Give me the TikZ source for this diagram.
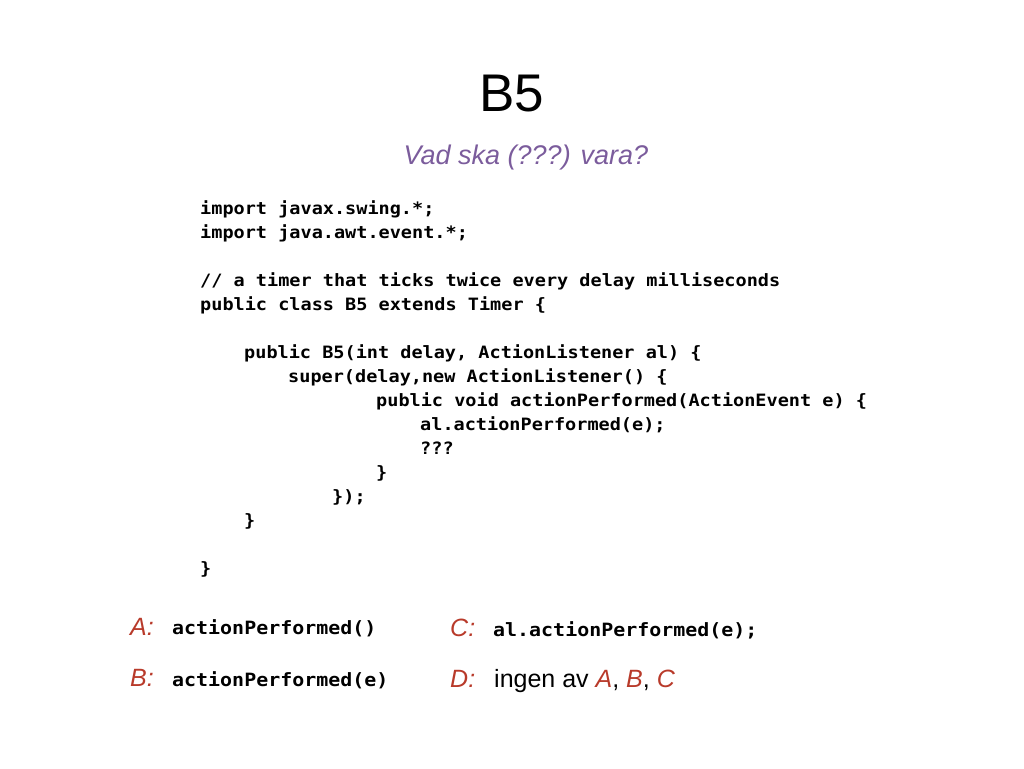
\documentclass[tikz,border=0pt]{standalone}
\usepackage{fontspec}
\setmainfont{Liberation Sans}
\newfontfamily\codefont[FakeStretch=1.09]{DejaVu Sans Mono}
\definecolor{ansred}{HTML}{B83A2A}
\definecolor{subpurple}{HTML}{7B5C9C}
\begin{document}
\begin{tikzpicture}[x=1pt,y=-1pt,
  code/.style={anchor=base west,inner sep=0pt,font=\codefont\bfseries\fontsize{17}{20}\selectfont},
  acode/.style={anchor=base west,inner sep=0pt,font=\codefont\bfseries\fontsize{18.3}{20}\selectfont},
  lab/.style={anchor=base west,inner sep=0pt,font=\itshape\fontsize{25}{28}\selectfont,text=ansred},
  plain/.style={anchor=base west,inner sep=0pt,font=\fontsize{25}{28}\selectfont}]
\useasboundingbox (0,0) rectangle (1024,768);
\node[anchor=base,inner sep=0pt,font=\fontsize{53}{56}\selectfont] (title) at (512,111) {B5};
\node[anchor=base,inner sep=0pt,font=\itshape\fontsize{27}{30}\selectfont,text=subpurple] (sub) at (526,164) {Vad ska (???) vara?};
\node[code] (l1) at (200,214) {import javax.swing.*;};
\node[code] (l2) at (200,238) {import java.awt.event.*;};
\node[code] (l3) at (200,286) {// a timer that ticks twice every delay milliseconds};
\node[code] (l4) at (200,310) {public class B5 extends Timer \{};
\node[code] (l5) at (244,358) {public B5(int delay, ActionListener al) \{};
\node[code] (l6) at (288,382) {super(delay,new ActionListener() \{};
\node[code] (l7) at (376,406) {public void actionPerformed(ActionEvent e) \{};
\node[code] (l8) at (420,430) {al.actionPerformed(e);};
\node[code] (l9) at (420,454) {???};
\node[code] (l10) at (376,478) {\}};
\node[code] (l11) at (332,502) {\});};
\node[code] (l12) at (244,526) {\}};
\node[code] (l13) at (200,574) {\}};
\node[lab] (a) at (130,635) {A:};
\node[acode] (ac) at (172,634) {actionPerformed()};
\node[lab] (b) at (130,686) {B:};
\node[acode] (bc) at (172,686) {actionPerformed(e)};
\node[lab] (c) at (450,636) {C:};
\node[acode] (cc) at (493,636) {al.actionPerformed(e);};
\node[lab] (d) at (450,687) {D:};
\node[plain] (dc) at (494,687) {ingen av \textcolor{ansred}{\itshape A}, \textcolor{ansred}{\itshape B}, \textcolor{ansred}{\itshape C}};
\end{tikzpicture}
\end{document}
